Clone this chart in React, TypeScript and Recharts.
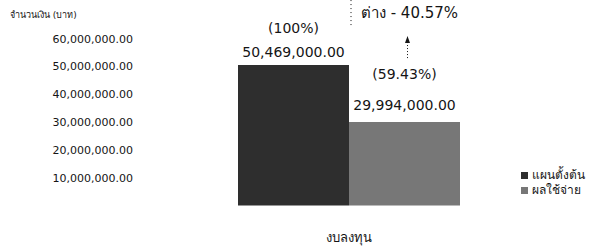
import React from "react";
import { BarChart, Bar, XAxis, YAxis, LabelList } from "recharts";

const categories = ["งบลงทุน"];
const planValues = [50469000];
const spentValues = [29994000];
const planPercent = ["(100%)"];
const spentPercent = ["(59.43%)"];
const diffLabel = "ต่าง - 40.57%";
const seriesNames = ["แผนตั้งต้น", "ผลใช้จ่าย"];
const yTicks = [10000000, 20000000, 30000000, 40000000, 50000000, 60000000];
const yTitle = "จำนวนเงิน (บาท)";

const data = categories.map((c, i) => ({
  name: c,
  plan: planValues[i],
  spent: spentValues[i],
}));

const FONT = "'DejaVu Sans', 'Noto Sans', sans-serif";
const TEXT = "#151515";
const C1 = "#2e2e2e";
const C2 = "#777777";
const COLORS = [C1, C2];

const fmt = (v: number) =>
  v.toLocaleString("en-US", { minimumFractionDigits: 2, maximumFractionDigits: 2 });

const makeLabel = (pcts: string[], valueGap: number, pctGap: number, annotate: boolean) =>
  (props: any) => {
    const { x, y, width, value, index } = props;
    const cx = x + width / 2;
    return (
      <g>
        <text x={cx} y={y - pctGap} textAnchor="middle" dominantBaseline="central" fontSize={14} fontFamily={FONT} fill={TEXT}>
          {pcts[index]}
        </text>
        <text x={cx} y={y - valueGap} textAnchor="middle" dominantBaseline="central" fontSize={14} fontFamily={FONT} fill={TEXT}>
          {fmt(value)}
        </text>
        {annotate && (
          <g>
            <line x1={x + 2} x2={x + 2} y1={y - 122} y2={y - 95} stroke={TEXT} strokeWidth={1} strokeDasharray="1 3" />
            <text x={cx + 5} y={y - 109} textAnchor="middle" dominantBaseline="central" fontSize={15} fontFamily={FONT} fill={TEXT}>
              {diffLabel}
            </text>
            <line x1={cx + 3} x2={cx + 3} y1={y - 64} y2={y - 80} stroke={TEXT} strokeWidth={1} strokeDasharray="1 2" />
            <path d={`M ${cx + 3} ${y - 86} L ${cx + 0.5} ${y - 79} L ${cx + 5.5} ${y - 79} Z`} fill={TEXT} />
          </g>
        )}
      </g>
    );
  };

const renderYTitle = (props: any) => {
  const vb = props.viewBox;
  return (
    <text x={vb.x + 10} y={vb.y - 24} dominantBaseline="central" fontSize={9} fontFamily={FONT} fill={TEXT}>
      {yTitle}
    </text>
  );
};

export default function App() {
  return (
    <div style={{ position: "absolute", left: 0, top: 0, width: 600, height: 248, background: "#fff" }}>
      <BarChart
        width={600}
        height={248}
        data={data}
        margin={{ top: 38.6, right: 43, left: 0, bottom: 0 }}
        barGap={0}
      >
        <XAxis
          dataKey="name"
          axisLine={false}
          tickLine={false}
          height={42.5}
          tickMargin={21}
          tick={{ fontSize: 13, fontFamily: FONT, fill: TEXT }}
        />
        <YAxis
          width={141}
          domain={[0, 60000000]}
          ticks={yTicks}
          axisLine={false}
          tickLine={false}
          tickFormatter={fmt}
          tick={{ fontSize: 11, fontFamily: FONT, fill: TEXT }}
          label={{ content: renderYTitle }}
        />
        <Bar dataKey="plan" name={seriesNames[0]} fill={C1} barSize={111} isAnimationActive={false}>
          <LabelList dataKey="plan" content={makeLabel(planPercent, 13, 37, false)} />
        </Bar>
        <Bar dataKey="spent" name={seriesNames[1]} fill={C2} barSize={111} isAnimationActive={false}>
          <LabelList dataKey="spent" content={makeLabel(spentPercent, 17, 48, true)} />
        </Bar>
      </BarChart>
      <div
        style={{
          position: "absolute",
          left: 521,
          top: 168,
          fontFamily: FONT,
          fontSize: 12,
          color: TEXT,
          lineHeight: "15px",
        }}
      >
        {seriesNames.map((n, i) => (
          <div key={n} style={{ display: "flex", alignItems: "center", whiteSpace: "nowrap" }}>
            <span style={{ display: "inline-block", width: 7, height: 7, background: COLORS[i], marginRight: 4 }} />
            <span>{n}</span>
          </div>
        ))}
      </div>
    </div>
  );
}
